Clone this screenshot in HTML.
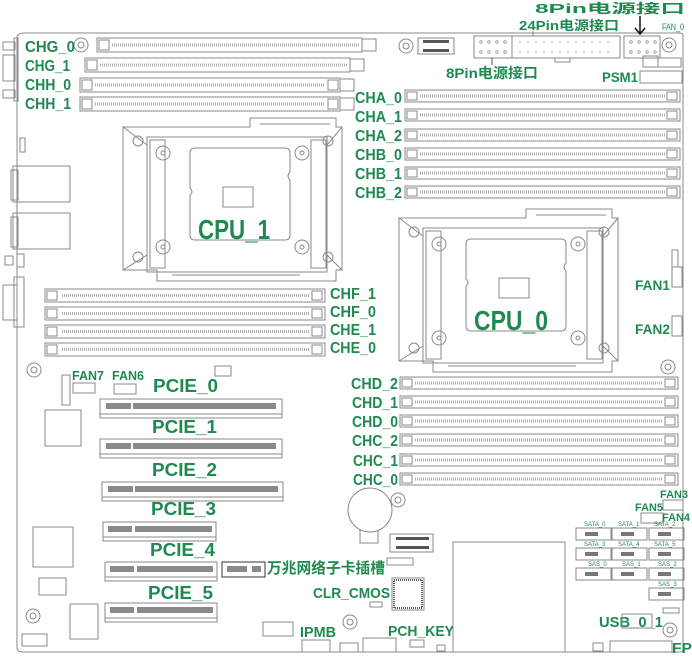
<!DOCTYPE html>
<html><head><meta charset="utf-8"><style>
html,body{margin:0;padding:0;background:#fff;}
svg{display:block;}
.g{fill:#1e8a50;font-family:"Liberation Sans","Noto Sans CJK SC",sans-serif;font-weight:bold;}
.s{fill:none;stroke:#8a8a8a;stroke-width:1;}
.d{fill:none;stroke:#b0b0b0;stroke-width:3;stroke-dasharray:1 1;}
</style></head><body>
<svg width="692" height="656" viewBox="0 0 692 656" xmlns="http://www.w3.org/2000/svg">
<defs>
<g id="cpu">
 <path class="s" d="M123 127 H250 V118 H336 V127 H342 V270 H336 V281 H157 V270 H123 Z"/>
 <rect class="s" x="147" y="137" width="180" height="135"/>
 <rect class="s" x="150" y="140" width="15" height="128"/>
 <rect class="s" x="311" y="140" width="15" height="128"/>
 <path class="s" d="M195 148 H285 Q290 148 290 153 V172 Q286 176 290 180 V235 Q290 240 285 240 H195 Q190 240 190 235 V195 Q194 192 190 188 V153 Q190 148 195 148 Z"/>
 <rect class="s" x="223" y="187" width="30" height="20"/>
 <circle class="s" cx="138" cy="141" r="5"/><circle class="s" cx="328" cy="141" r="5"/>
 <circle class="s" cx="138" cy="257" r="5"/><circle class="s" cx="328" cy="257" r="5"/>
 <circle class="s" cx="163" cy="153" r="7"/><circle class="s" cx="163" cy="153" r="2"/>
 <circle class="s" cx="302" cy="153" r="7"/><circle class="s" cx="302" cy="153" r="2"/>
 <circle class="s" cx="163" cy="247" r="7"/><circle class="s" cx="163" cy="247" r="2"/>
 <circle class="s" cx="302" cy="247" r="7"/><circle class="s" cx="302" cy="247" r="2"/>
 <path class="s" d="M123 127 L147 145 M342 127 L327 145 M123 270 L147 255 M342 270 L327 255"/>
 <path class="s" d="M260 124 H330 M172 275 H300"/>
</g>
<g id="hole"><circle class="s" cx="0" cy="0" r="7"/><circle class="s" cx="0" cy="0" r="3"/></g>
</defs>

<path class="s" d="M24 33 H680 Q683 33 683 36 V650 Q683 652 680 652 H22 Q17 652 17 647 V38 Q17 33 24 33 Z"/>

<rect class="s" x="3" y="42" width="12" height="8"/><rect class="s" x="3" y="90" width="12" height="8"/>
<rect class="s" x="3" y="55" width="12" height="26"/><rect class="s" x="14" y="38" width="4" height="63"/>
<rect class="s" x="20" y="138" width="5" height="14"/>
<rect class="s" x="13" y="166" width="57" height="36"/><rect class="s" x="13" y="213" width="57" height="36"/>
<rect class="s" x="11" y="170" width="7" height="30"/><rect class="s" x="11" y="217" width="7" height="30"/>
<rect class="s" x="5" y="256" width="8" height="9"/><rect class="s" x="17" y="254" width="7" height="13"/>
<rect class="s" x="3" y="285" width="14" height="35"/><rect class="s" x="14" y="277" width="10" height="50"/>

<g>
 <rect class="s" x="97" y="38" width="265" height="14"/><path class="d" d="M112 45 H360"/><rect class="s" x="99" y="40" width="10" height="10"/><rect class="s" x="362" y="39" width="14" height="12"/>
 <rect class="s" x="85" y="58" width="265" height="14"/><path class="d" d="M100 65 H348"/><rect class="s" x="87" y="60" width="10" height="10"/><rect class="s" x="350" y="59" width="14" height="12"/>
 <rect class="s" x="80" y="78" width="260" height="14"/><path class="d" d="M95 85 H325"/><rect class="s" x="82" y="80" width="10" height="10"/><rect class="s" x="340" y="79" width="14" height="12"/><rect class="s" x="328" y="80" width="10" height="10"/>
 <rect class="s" x="80" y="97" width="260" height="14"/><path class="d" d="M95 104 H325"/><rect class="s" x="82" y="99" width="10" height="10"/><rect class="s" x="340" y="98" width="14" height="12"/><rect class="s" x="328" y="99" width="10" height="10"/>
</g>
<use href="#hole" x="81" y="45"/>
<text class="g" x="25" y="52" font-size="16" textLength="50" lengthAdjust="spacingAndGlyphs">CHG_0</text>
<text class="g" x="25" y="71" font-size="16" textLength="45" lengthAdjust="spacingAndGlyphs">CHG_1</text>
<text class="g" x="25" y="90" font-size="16" textLength="46" lengthAdjust="spacingAndGlyphs">CHH_0</text>
<text class="g" x="25" y="109" font-size="16" textLength="46" lengthAdjust="spacingAndGlyphs">CHH_1</text>

<use href="#cpu"/>
<use href="#cpu" transform="translate(276,91)"/>
<text class="g" x="198" y="239" font-size="28" textLength="72" lengthAdjust="spacingAndGlyphs" font-weight="normal">CPU_1</text>
<text class="g" x="474" y="330" font-size="28" textLength="74" lengthAdjust="spacingAndGlyphs">CPU_0</text>

<g>
 <rect class="s" x="45" y="289" width="280" height="13"/><path class="d" d="M62 295.5 H310"/><rect class="s" x="47" y="291" width="10" height="9"/><rect class="s" x="312" y="291" width="10" height="9"/>
 <rect class="s" x="45" y="307" width="280" height="13"/><path class="d" d="M62 313.5 H310"/><rect class="s" x="47" y="309" width="10" height="9"/><rect class="s" x="312" y="309" width="10" height="9"/>
 <rect class="s" x="45" y="325" width="280" height="13"/><path class="d" d="M62 331.5 H310"/><rect class="s" x="47" y="327" width="10" height="9"/><rect class="s" x="312" y="327" width="10" height="9"/>
 <rect class="s" x="45" y="343" width="280" height="13"/><path class="d" d="M62 349.5 H310"/><rect class="s" x="47" y="345" width="10" height="9"/><rect class="s" x="312" y="345" width="10" height="9"/>
</g>
<text class="g" x="330" y="299" font-size="16" textLength="46" lengthAdjust="spacingAndGlyphs">CHF_1</text>
<text class="g" x="330" y="317" font-size="16" textLength="46" lengthAdjust="spacingAndGlyphs">CHF_0</text>
<text class="g" x="330" y="335" font-size="16" textLength="46" lengthAdjust="spacingAndGlyphs">CHE_1</text>
<text class="g" x="330" y="353" font-size="16" textLength="46" lengthAdjust="spacingAndGlyphs">CHE_0</text>

<use href="#hole" x="406" y="46"/>
<rect class="s" x="418" y="38" width="36" height="16"/><rect x="423" y="40" width="26" height="3" fill="#555"/><rect x="423" y="49" width="26" height="3" fill="#555"/>
<rect class="s" x="474" y="36" width="38" height="22"/>
<rect class="s" x="512" y="36" width="108" height="22"/><path class="s" d="M555 58 V62 H570 V58"/>
<rect class="s" x="624" y="36" width="36" height="22"/>
<g fill="none" stroke="#999" stroke-width="0.8">
<circle cx="481" cy="42" r="1.3"/><circle cx="489" cy="42" r="1.3"/><circle cx="497" cy="42" r="1.3"/><circle cx="505" cy="42" r="1.3"/>
<circle cx="481" cy="52" r="1.3"/><circle cx="489" cy="52" r="1.3"/><circle cx="497" cy="52" r="1.3"/><circle cx="505" cy="52" r="1.3"/>
<circle cx="631" cy="42" r="1.3"/><circle cx="639" cy="42" r="1.3"/><circle cx="647" cy="42" r="1.3"/><circle cx="655" cy="42" r="1.3"/>
<circle cx="631" cy="52" r="1.3"/><circle cx="639" cy="52" r="1.3"/><circle cx="647" cy="52" r="1.3"/><circle cx="655" cy="52" r="1.3"/>
<path d="M519 42 h96 M519 52 h96" stroke-dasharray="2.5 5.5"/>
</g>
<use href="#hole" x="669" y="45"/>
<path d="M640 16 V33 M635 28 L640 34 L645 28" fill="none" stroke="#111" stroke-width="1.5"/>
<path d="M533 36 V31" stroke="#888"/><path d="M492 58 V65" stroke="#555"/>
<text class="g" x="535" y="13" font-size="13" textLength="150" lengthAdjust="spacingAndGlyphs">8Pin电源接口</text>
<text class="g" x="519" y="30" font-size="13" textLength="100" lengthAdjust="spacingAndGlyphs">24Pin电源接口</text>
<text x="662" y="30" font-size="9" fill="#1e8a50" font-family="Liberation Sans,sans-serif" textLength="22" lengthAdjust="spacingAndGlyphs">FAN_0</text>
<text class="g" x="446" y="78" font-size="14" textLength="92" lengthAdjust="spacingAndGlyphs">8Pin电源接口</text>
<text class="g" x="602" y="82" font-size="14" textLength="36" lengthAdjust="spacingAndGlyphs">PSM1</text>
<rect class="s" x="643" y="56" width="15" height="11"/><rect class="s" x="658" y="58" width="23" height="9"/>
<rect class="s" x="640" y="71" width="42" height="12"/>

<g>
 <rect class="s" x="405" y="90" width="275" height="12"/><path class="d" d="M420 96 H665"/><rect class="s" x="407" y="92" width="10" height="8"/><rect class="s" x="667" y="92" width="10" height="8"/>
 <rect class="s" x="405" y="109" width="275" height="12"/><path class="d" d="M420 115 H665"/><rect class="s" x="407" y="111" width="10" height="8"/><rect class="s" x="667" y="111" width="10" height="8"/>
 <rect class="s" x="405" y="129" width="275" height="12"/><path class="d" d="M420 135 H665"/><rect class="s" x="407" y="131" width="10" height="8"/><rect class="s" x="667" y="131" width="10" height="8"/>
 <rect class="s" x="405" y="148" width="275" height="12"/><path class="d" d="M420 154 H665"/><rect class="s" x="407" y="150" width="10" height="8"/><rect class="s" x="667" y="150" width="10" height="8"/>
 <rect class="s" x="405" y="167" width="275" height="12"/><path class="d" d="M420 173 H665"/><rect class="s" x="407" y="169" width="10" height="8"/><rect class="s" x="667" y="169" width="10" height="8"/>
 <rect class="s" x="405" y="186" width="275" height="12"/><path class="d" d="M420 192 H665"/><rect class="s" x="407" y="188" width="10" height="8"/><rect class="s" x="667" y="188" width="10" height="8"/>
</g>
<text class="g" x="355" y="103" font-size="16" textLength="47" lengthAdjust="spacingAndGlyphs">CHA_0</text>
<text class="g" x="355" y="122" font-size="16" textLength="47" lengthAdjust="spacingAndGlyphs">CHA_1</text>
<text class="g" x="355" y="141" font-size="16" textLength="47" lengthAdjust="spacingAndGlyphs">CHA_2</text>
<text class="g" x="355" y="160" font-size="16" textLength="47" lengthAdjust="spacingAndGlyphs">CHB_0</text>
<text class="g" x="355" y="179" font-size="16" textLength="47" lengthAdjust="spacingAndGlyphs">CHB_1</text>
<text class="g" x="355" y="198" font-size="16" textLength="47" lengthAdjust="spacingAndGlyphs">CHB_2</text>

<rect class="s" x="672" y="250" width="6" height="17"/><rect class="s" x="672" y="267" width="10" height="20"/>
<rect class="s" x="672" y="316" width="10" height="20"/>
<text class="g" x="635" y="290" font-size="14" textLength="35" lengthAdjust="spacingAndGlyphs">FAN1</text>
<text class="g" x="635" y="334" font-size="14" textLength="35" lengthAdjust="spacingAndGlyphs">FAN2</text>
<use href="#hole" x="668" y="367"/>

<g>
 <rect class="s" x="400" y="377" width="278" height="12"/><path class="d" d="M415 383 H663"/><rect class="s" x="402" y="379" width="10" height="8"/><rect class="s" x="665" y="379" width="10" height="8"/>
 <rect class="s" x="400" y="396" width="278" height="12"/><path class="d" d="M415 402 H663"/><rect class="s" x="402" y="398" width="10" height="8"/><rect class="s" x="665" y="398" width="10" height="8"/>
 <rect class="s" x="400" y="415" width="278" height="12"/><path class="d" d="M415 421 H663"/><rect class="s" x="402" y="417" width="10" height="8"/><rect class="s" x="665" y="417" width="10" height="8"/>
 <rect class="s" x="400" y="434" width="278" height="12"/><path class="d" d="M415 440 H663"/><rect class="s" x="402" y="436" width="10" height="8"/><rect class="s" x="665" y="436" width="10" height="8"/>
 <rect class="s" x="400" y="454" width="278" height="12"/><path class="d" d="M415 460 H663"/><rect class="s" x="402" y="456" width="10" height="8"/><rect class="s" x="665" y="456" width="10" height="8"/>
 <rect class="s" x="400" y="473" width="278" height="12"/><path class="d" d="M415 479 H663"/><rect class="s" x="402" y="475" width="10" height="8"/><rect class="s" x="665" y="475" width="10" height="8"/>
</g>
<text class="g" x="351" y="389" font-size="16" textLength="47" lengthAdjust="spacingAndGlyphs">CHD_2</text>
<text class="g" x="352" y="408" font-size="16" textLength="46" lengthAdjust="spacingAndGlyphs">CHD_1</text>
<text class="g" x="352" y="427" font-size="16" textLength="46" lengthAdjust="spacingAndGlyphs">CHD_0</text>
<text class="g" x="352" y="446" font-size="16" textLength="46" lengthAdjust="spacingAndGlyphs">CHC_2</text>
<text class="g" x="353" y="466" font-size="16" textLength="45" lengthAdjust="spacingAndGlyphs">CHC_1</text>
<text class="g" x="353" y="485" font-size="16" textLength="45" lengthAdjust="spacingAndGlyphs">CHC_0</text>

<text class="g" x="660" y="498" font-size="11" textLength="28" lengthAdjust="spacingAndGlyphs">FAN3</text>
<rect class="s" x="663" y="500" width="20" height="10"/>
<text class="g" x="635" y="511" font-size="11" textLength="28" lengthAdjust="spacingAndGlyphs">FAN5</text>
<rect class="s" x="641" y="513" width="22" height="10"/>
<text class="g" x="662" y="521" font-size="11" textLength="28" lengthAdjust="spacingAndGlyphs">FAN4</text>

<g font-family="Liberation Sans,sans-serif" font-size="6" fill="#1e8a50">
<text x="584" y="526">SATA_0</text><text x="618" y="526">SATA_1</text><text x="654" y="526">SATA_2</text>
<text x="584" y="546">SATA_3</text><text x="618" y="546">SATA_4</text><text x="654" y="546">SATA_5</text>
<text x="588" y="566">SAS_0</text><text x="622" y="566">SAS_1</text><text x="658" y="566">SAS_2</text>
<text x="658" y="586">SAS_3</text>
</g>
<g>
<rect class="s" x="576" y="528" width="35" height="12"/><rect class="s" x="612" y="528" width="35" height="12"/><rect class="s" x="649" y="528" width="35" height="12"/>
<rect class="s" x="576" y="548" width="35" height="12"/><rect class="s" x="612" y="548" width="35" height="12"/><rect class="s" x="649" y="548" width="35" height="12"/>
<rect class="s" x="576" y="568" width="35" height="12"/><rect class="s" x="612" y="568" width="35" height="12"/><rect class="s" x="649" y="568" width="35" height="12"/>
<rect class="s" x="649" y="588" width="35" height="12"/>
<g fill="#777"><rect x="585" y="532" width="13" height="4"/><rect x="621" y="532" width="13" height="4"/><rect x="658" y="532" width="13" height="4"/>
<rect x="585" y="552" width="13" height="4"/><rect x="621" y="552" width="13" height="4"/><rect x="658" y="552" width="13" height="4"/>
<rect x="585" y="572" width="13" height="4"/><rect x="621" y="572" width="13" height="4"/><rect x="658" y="572" width="13" height="4"/>
<rect x="658" y="592" width="13" height="4"/></g>
</g>
<rect class="s" x="663" y="608" width="16" height="5"/>

<rect class="s" x="453" y="542" width="112" height="110"/>
<circle class="s" cx="370" cy="510" r="22"/><path class="s" d="M360 530 V543 H378 V530"/>
<use href="#hole" x="398" y="500"/>
<rect class="s" x="390" y="534" width="43" height="18"/><rect x="396" y="537" width="33" height="3" fill="#555"/><rect x="396" y="546" width="33" height="3" fill="#555"/>
<rect class="s" x="387" y="558" width="26" height="7"/>
<rect class="s" x="392" y="578" width="32" height="32"/><rect x="394" y="580" width="28" height="28" fill="none" stroke="#555" stroke-width="2" stroke-dasharray="1 1"/>
<rect class="s" x="370" y="602" width="12" height="5"/>
<text class="g" x="267" y="573" font-size="15" textLength="118" lengthAdjust="spacingAndGlyphs">万兆网络子卡插槽</text>
<text class="g" x="313" y="598" font-size="15" textLength="77" lengthAdjust="spacingAndGlyphs">CLR_CMOS</text>
<use href="#hole" x="350" y="622"/>
<text class="g" x="388" y="636" font-size="15" textLength="66" lengthAdjust="spacingAndGlyphs">PCH_KEY</text>
<rect class="s" x="410" y="640" width="14" height="7"/><rect class="s" x="437" y="645" width="8" height="6"/>
<rect class="s" x="363" y="638" width="33" height="14"/><rect class="s" x="340" y="643" width="18" height="9"/>
<text class="g" x="599" y="627" font-size="15" textLength="64" lengthAdjust="spacingAndGlyphs">USB_0_1</text>
<use href="#hole" x="670" y="630"/>
<rect class="s" x="622" y="614" width="30" height="14"/>
<rect class="s" x="610" y="641" width="62" height="11"/>
<rect class="s" x="593" y="643" width="10" height="8"/>
<text class="g" x="672" y="653" font-size="15" textLength="20" lengthAdjust="spacingAndGlyphs">FP</text>

<use href="#hole" x="34" y="370"/>
<rect class="s" x="62" y="375" width="8" height="30"/>
<text class="g" x="72" y="380" font-size="13" textLength="32" lengthAdjust="spacingAndGlyphs">FAN7</text>
<text class="g" x="112" y="380" font-size="13" textLength="32" lengthAdjust="spacingAndGlyphs">FAN6</text>
<rect class="s" x="73" y="383" width="22" height="10"/><rect class="s" x="114" y="384" width="22" height="10"/>
<rect class="s" x="215" y="366" width="16" height="10"/>
<rect class="s" x="45" y="410" width="36" height="36"/>
<rect class="s" x="33" y="527" width="40" height="40"/>
<rect class="s" x="39" y="578" width="27" height="17"/>
<rect class="s" x="70" y="604" width="28" height="35"/>
<use href="#hole" x="33" y="616"/>
<rect class="s" x="22" y="634" width="25" height="12"/>
<rect class="s" x="263" y="622" width="30" height="14"/>
<rect class="s" x="302" y="640" width="28" height="12"/>
<text class="g" x="300" y="637" font-size="15" textLength="36" lengthAdjust="spacingAndGlyphs">IPMB</text>

<g>
 <rect class="s" x="100" y="399" width="182" height="15"/><rect x="106" y="403" width="25" height="6" fill="#8a8a8a"/><rect x="133" y="403" width="143" height="6" fill="#8a8a8a"/><path class="s" d="M100 414 V418 H282 V414"/>
 <rect class="s" x="100" y="439" width="182" height="15"/><rect x="106" y="443" width="25" height="6" fill="#8a8a8a"/><rect x="133" y="443" width="143" height="6" fill="#8a8a8a"/><path class="s" d="M100 454 V458 H282 V454"/>
 <rect class="s" x="102" y="482" width="181" height="15"/><rect x="108" y="486" width="25" height="6" fill="#8a8a8a"/><rect x="135" y="486" width="143" height="6" fill="#8a8a8a"/><path class="s" d="M102 497 V501 H283 V497"/>
 <rect class="s" x="103" y="522" width="113" height="15"/><rect x="108" y="526" width="24" height="6" fill="#8a8a8a"/><rect x="135" y="526" width="77" height="6" fill="#8a8a8a"/><path class="s" d="M103 537 V541 H216 V537"/>
 <rect class="s" x="105" y="562" width="112" height="15"/><rect x="110" y="566" width="24" height="6" fill="#8a8a8a"/><rect x="137" y="566" width="76" height="6" fill="#8a8a8a"/><path class="s" d="M105 577 V581 H217 V577"/>
 <rect x="222" y="562" width="43" height="15" fill="none" stroke="#333"/><rect x="227" y="566" width="20" height="6" fill="#8a8a8a"/><rect x="252" y="566" width="9" height="6" fill="#8a8a8a"/>
 <rect class="s" x="105" y="603" width="112" height="15"/><rect x="110" y="607" width="24" height="6" fill="#8a8a8a"/><rect x="137" y="607" width="76" height="6" fill="#8a8a8a"/><path class="s" d="M105 618 V622 H217 V618"/>
</g>
<text class="g" x="153" y="392" font-size="18" textLength="65" lengthAdjust="spacingAndGlyphs">PCIE_0</text>
<text class="g" x="152" y="433" font-size="18" textLength="65" lengthAdjust="spacingAndGlyphs">PCIE_1</text>
<text class="g" x="152" y="476" font-size="18" textLength="65" lengthAdjust="spacingAndGlyphs">PCIE_2</text>
<text class="g" x="151" y="515" font-size="18" textLength="65" lengthAdjust="spacingAndGlyphs">PCIE_3</text>
<text class="g" x="150" y="556" font-size="18" textLength="65" lengthAdjust="spacingAndGlyphs">PCIE_4</text>
<text class="g" x="148" y="599" font-size="18" textLength="65" lengthAdjust="spacingAndGlyphs">PCIE_5</text>
</svg>
</body></html>
